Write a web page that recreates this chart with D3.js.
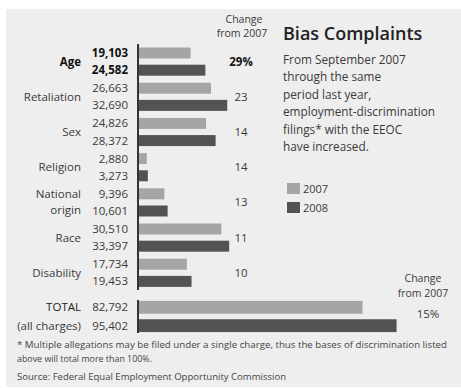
<!DOCTYPE html>
<html>
<head>
<meta charset="utf-8">
<script src="https://cdn.jsdelivr.net/npm/d3@7"></script>
<style>
  html, body { margin: 0; padding: 0; background: #fff; }
  svg { display: block; }
  text { font-family: "Open Sans", "DejaVu Sans", sans-serif; fill: #3a3a3a; }
</style>
</head>
<body>
<svg id="chart" width="461" height="388"></svg>
<script>
// Employment-discrimination filings with the EEOC, by basis
const categories = ["Age", "Retaliation", "Sex", "Religion", "National origin", "Race", "Disability"];
const categoryLines = [["Age"], ["Retaliation"], ["Sex"], ["Religion"], ["National", "origin"], ["Race"], ["Disability"]];
const years = ["2007", "2008"];
const values2007 = [19103, 26663, 24826, 2880, 9396, 30510, 17734];
const values2008 = [24582, 32690, 28372, 3273, 10601, 33397, 19453];
const changeLabels = ["29%", "23", "14", "14", "13", "11", "10"];
const totalValues = [82792, 95402];
const totalChange = "15%";

const barColors = { "2007": "#a5a5a5", "2008": "#535353" };
const fmt = d3.format(",");

const svg = d3.select("#chart");

// grey panel
svg.append("rect").attr("x", 6).attr("y", 9).attr("width", 455).attr("height", 378).attr("fill", "#eeeeee");

const x = d3.scaleLinear().domain([0, 100000]).range([139, 409]);

const y = d3.scaleBand().domain(categories).range([44, 290.4]).paddingInner(0.2).paddingOuter(0.1);
const yInner = d3.scaleBand().domain(years).range([0, y.bandwidth()]).paddingInner(0.36);

const yTotal = d3.scaleBand().domain(years).range([300, 333]).paddingInner(0.3).paddingOuter(0.05);

const rows = categories.map((c, i) => ({
  cat: c, lines: categoryLines[i], change: changeLabels[i],
  vals: [{ year: "2007", v: values2007[i] }, { year: "2008", v: values2008[i] }]
}));

const g = svg.append("g");

const grp = g.selectAll("g.grp").data(rows).join("g")
  .attr("class", "grp")
  .attr("transform", d => `translate(0,${y(d.cat)})`);

grp.selectAll("rect").data(d => d.vals).join("rect")
  .attr("x", x(0))
  .attr("y", d => yInner(d.year))
  .attr("width", d => x(d.v) - x(0))
  .attr("height", yInner.bandwidth())
  .attr("fill", d => barColors[d.year]);

grp.selectAll("text.val").data(d => d.vals.map(v => Object.assign({ bold: d.cat === "Age" }, v))).join("text")
  .attr("class", "val")
  .attr("x", 128)
  .attr("y", d => yInner(d.year) + yInner.bandwidth() / 2 + 4)
  .attr("text-anchor", "end")
  .attr("font-size", 11.5)
  .attr("font-weight", d => d.bold ? 700 : 400)
  .style("fill", d => d.bold ? "#111" : "#3a3a3a")
  .text(d => fmt(d.v));

grp.each(function (d) {
  const t = d3.select(this).append("text")
    .attr("x", 81)
    .attr("text-anchor", "end")
    .attr("font-size", 11.5)
    .attr("font-weight", d.cat === "Age" ? 700 : 400)
    .style("fill", d.cat === "Age" ? "#111" : "#3a3a3a");
  const mid = y.bandwidth() / 2;
  const n = d.lines.length;
  d.lines.forEach((line, k) => {
    t.append("tspan").attr("x", 81).attr("y", mid + 4 + (k - (n - 1) / 2) * 16).text(line);
  });
});

grp.append("text")
  .attr("x", 241)
  .attr("y", y.bandwidth() / 2 + 4)
  .attr("text-anchor", "middle")
  .attr("font-size", 11.5)
  .attr("font-weight", d => d.cat === "Age" ? 700 : 400)
  .style("fill", d => d.cat === "Age" ? "#111" : "#3a3a3a")
  .text(d => d.change);

// baseline axes
const axisLeft = d3.axisLeft(y).tickSize(0).tickFormat("");
g.append("g").attr("transform", `translate(${x(0) - 1},0)`).call(axisLeft)
  .call(s => s.select(".domain").attr("stroke", "#333").attr("stroke-width", 2).attr("d", `M0,44V290`));

// change header
const hdr = svg.append("text").attr("text-anchor", "middle").attr("font-size", 10.5);
hdr.append("tspan").attr("x", 244).attr("y", 23).text("Change");
hdr.append("tspan").attr("x", 242).attr("y", 37).text("from 2007");

// totals
const tot = svg.append("g");
tot.selectAll("rect").data(years).join("rect")
  .attr("x", x(0))
  .attr("y", d => yTotal(d))
  .attr("width", (d, i) => x(totalValues[i]) - x(0))
  .attr("height", yTotal.bandwidth())
  .attr("fill", d => barColors[d]);
tot.selectAll("text.val").data(years).join("text")
  .attr("class", "val")
  .attr("x", 128)
  .attr("y", d => yTotal(d) + yTotal.bandwidth() / 2 + 4)
  .attr("text-anchor", "end")
  .attr("font-size", 11.5)
  .text((d, i) => fmt(totalValues[i]));
tot.append("text").attr("x", 81).attr("y", yTotal("2007") + yTotal.bandwidth() / 2 + 4)
  .attr("text-anchor", "end").attr("font-size", 11.5).style("fill", "#222").text("TOTAL");
tot.append("text").attr("x", 81).attr("y", yTotal("2008") + yTotal.bandwidth() / 2 + 4)
  .attr("text-anchor", "end").attr("font-size", 11.5).text("(all charges)");
tot.append("g").attr("transform", `translate(${x(0) - 1},0)`).call(d3.axisLeft(yTotal).tickSize(0).tickFormat(""))
  .call(s => s.select(".domain").attr("stroke", "#333").attr("stroke-width", 2).attr("d", "M0,300V333"));

const hdr2 = svg.append("text").attr("text-anchor", "middle").attr("font-size", 10.5);
hdr2.append("tspan").attr("x", 423).attr("y", 282).text("Change");
hdr2.append("tspan").attr("x", 423).attr("y", 297).text("from 2007");
svg.append("text").attr("x", 428).attr("y", 318).attr("text-anchor", "middle").attr("font-size", 11.5).text(totalChange);

// title and description
svg.append("text").attr("x", 283).attr("y", 40).attr("font-size", 18).attr("font-weight", 600)
  .style("fill", "#222").text("Bias Complaints");
const desc = ["From September 2007", "through the same", "period last year,",
  "employment-discrimination", "filings* with the EEOC", "have increased."];
svg.append("g").selectAll("text").data(desc).join("text")
  .attr("x", 283).attr("y", (d, i) => 64 + i * 17.4)
  .attr("font-size", 11.8)
  .text(d => d);

// legend
const leg = svg.append("g").selectAll("g").data(years).join("g")
  .attr("transform", (d, i) => `translate(287,${183 + i * 19})`);
leg.append("rect").attr("width", 13).attr("height", 11).attr("fill", d => barColors[d]);
leg.append("text").attr("x", 16).attr("y", 10).attr("font-size", 11).text(d => d);

// notes
const notes = [
  { t: "* Multiple allegations may be filed under a single charge, thus the bases of discrimination listed", y: 348, w: 430 },
  { t: "above will total more than 100%.", y: 362, w: 135 },
  { t: "Source: Federal Equal Employment Opportunity Commission", y: 380, w: 269 }
];
svg.append("g").selectAll("text").data(notes).join("text")
  .attr("x", 17).attr("y", d => d.y)
  .attr("font-size", 9)
  .attr("textLength", d => d.w)
  .attr("lengthAdjust", "spacingAndGlyphs")
  .style("fill", "#444")
  .text(d => d.t);
</script>
</body>
</html>
